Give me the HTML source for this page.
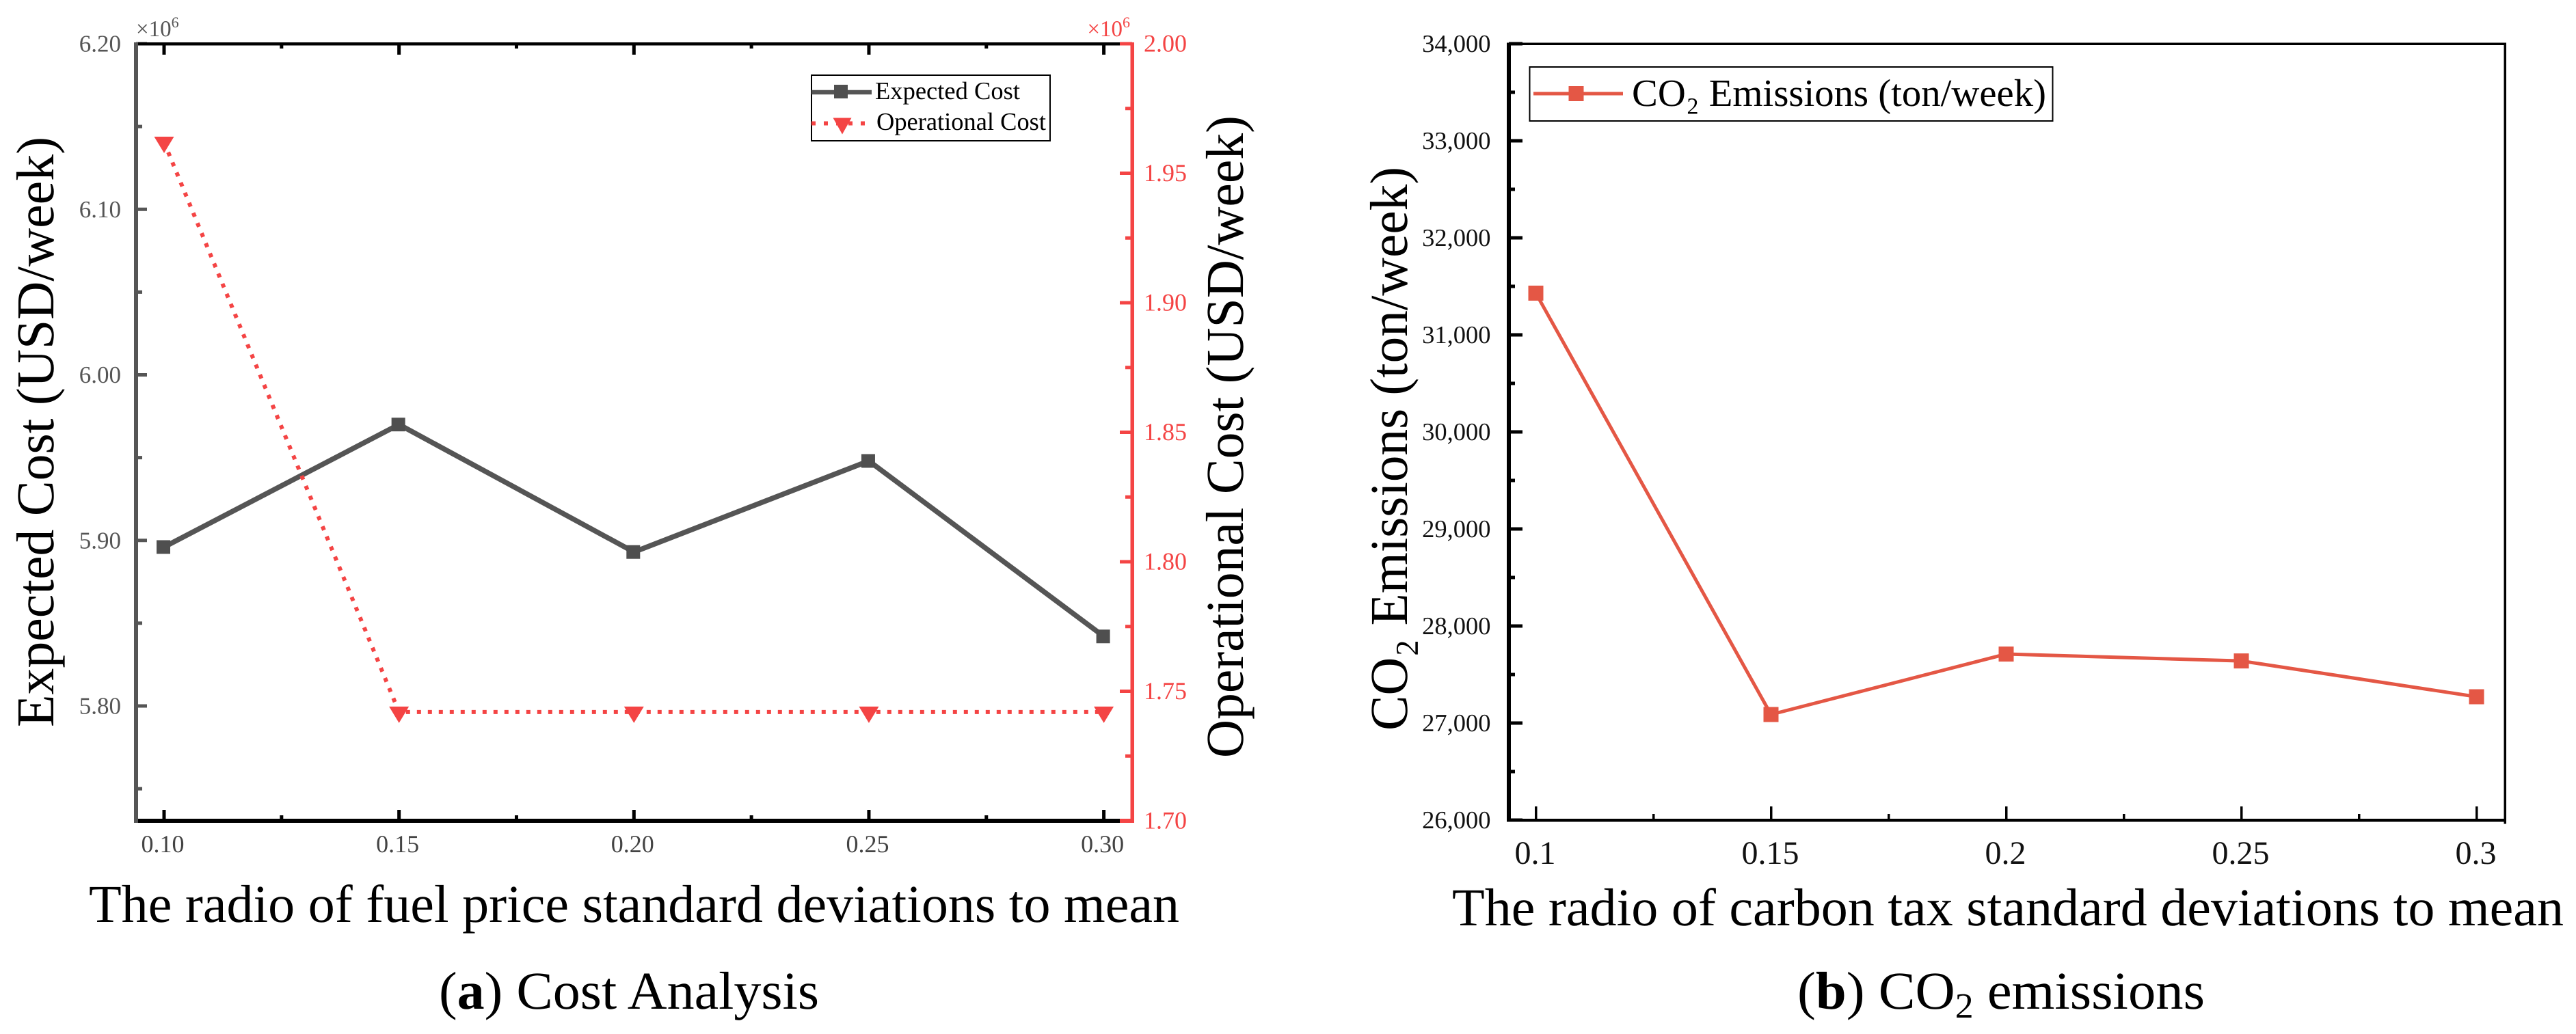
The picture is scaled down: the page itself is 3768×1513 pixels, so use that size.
<!DOCTYPE html>
<html lang="en">
<head>
<meta charset="utf-8">
<title>Cost analysis and CO2 emissions</title>
<style>
  html, body { margin: 0; padding: 0; background: #fff; width: 3768px; height: 1513px; overflow: hidden; }
  svg { display: block; }
  text { font-family: "Liberation Serif", "Noto Serif CJK SC", serif; text-rendering: geometricPrecision; }
</style>
</head>
<body>
<svg xmlns="http://www.w3.org/2000/svg" width="3768" height="1513" viewBox="0 0 3768 1513">
  <rect x="0" y="0" width="3768" height="1513" fill="#ffffff"/>

  <g id="chart-a">
    <g id="a-ticks"></g>
    <rect x="196" y="62" width="1463" height="4.5" fill="#000"/>
    <rect x="196" y="1198" width="1445" height="6" fill="#000"/>
    <rect x="196" y="62" width="6" height="1142" fill="#555555"/>
    <rect x="1638" y="1198" width="21" height="6" fill="#f44444"/>
    <rect x="1653.5" y="62" width="5.5" height="1142" fill="#f44444"/>
    <rect x="1638" y="62" width="21" height="4.5" fill="#f44444"/>
    <g id="a-series"></g>

    <text x="199" y="53" font-size="33" fill="#555555">×10<tspan dy="-13" font-size="22">6</tspan></text>
    <text x="1653" y="53" font-size="33" fill="#f44444" text-anchor="end">×10<tspan dy="-13" font-size="22">6</tspan></text>

    <text transform="translate(78,1064) rotate(-90)" font-size="78" fill="#000" textLength="864" lengthAdjust="spacingAndGlyphs">Expected Cost (USD/week)</text>
    <text transform="translate(1818,1109) rotate(-90)" font-size="78" fill="#000" textLength="940" lengthAdjust="spacingAndGlyphs">Operational Cost (USD/week)</text>
    <text x="130" y="1349" font-size="78" fill="#000" textLength="1595" lengthAdjust="spacingAndGlyphs">The radio of fuel price standard deviations to mean</text>
    <text x="642" y="1476" font-size="78" fill="#000" textLength="556" lengthAdjust="spacingAndGlyphs">(<tspan font-weight="bold">a</tspan>) Cost Analysis</text>

    <g>
      <rect x="1187" y="110" width="349" height="96" fill="#fff" stroke="#000" stroke-width="2"/>
      <line x1="1187" y1="135" x2="1275" y2="135" stroke="#555555" stroke-width="6.5"/>
      <rect x="1220" y="124" width="20" height="20" fill="#4f4f4f"/>
      <text x="1280" y="145" font-size="36.5" fill="#000" textLength="212" lengthAdjust="spacingAndGlyphs">Expected Cost</text>
      <line x1="1187" y1="180.5" x2="1276" y2="180.5" stroke="#f44444" stroke-width="6" stroke-dasharray="6 12"/>
      <polygon points="1218.5,172.5 1245.5,172.5 1232,196.5" fill="#f44444"/>
      <text x="1282" y="190" font-size="36.5" fill="#000" textLength="248" lengthAdjust="spacingAndGlyphs">Operational Cost</text>
    </g>
  </g>

  <g id="chart-b">
    <g id="b-ticks"></g>
    <rect x="2204" y="62.5" width="1462" height="3.5" fill="#000"/>
    <rect x="2204" y="1198" width="1462" height="4.5" fill="#000"/>
    <rect x="2204" y="62.5" width="6" height="1140" fill="#000"/>
    <rect x="3662.5" y="62.5" width="3.5" height="1143" fill="#000"/>
    <g id="b-series"></g>

    <text transform="translate(2058,1069) rotate(-90)" font-size="78" fill="#000" textLength="825" lengthAdjust="spacingAndGlyphs">CO₂ Emissions (ton/week)</text>
    <text x="2124" y="1354" font-size="78" fill="#000" textLength="1626" lengthAdjust="spacingAndGlyphs">The radio of carbon tax standard deviations to mean</text>
    <text x="2629" y="1476" font-size="78" fill="#000" textLength="596" lengthAdjust="spacingAndGlyphs">(<tspan font-weight="bold">b</tspan>) CO<tspan dy="13" font-size="52">2</tspan><tspan dy="-13"> emissions</tspan></text>

    <g>
      <rect x="2237.5" y="98" width="765" height="79" fill="#fff" stroke="#000" stroke-width="2"/>
      <line x1="2243" y1="137" x2="2374" y2="137" stroke="#e45745" stroke-width="5"/>
      <rect x="2294.5" y="126" width="22" height="22" fill="#e45745"/>
      <text x="2387" y="155" font-size="56.5" fill="#000" textLength="606" lengthAdjust="spacingAndGlyphs">CO₂ Emissions (ton/week)</text>
    </g>
  </g>
</svg>

<script>
// ---- Chart (a) data ----
const ratiosA = [0.10, 0.15, 0.20, 0.25, 0.30];
const expectedCost = [5.896, 5.970, 5.893, 5.948, 5.842];
const operationalCost = [1.962, 1.742, 1.742, 1.742, 1.742];
const xLabelsA = ['0.10', '0.15', '0.20', '0.25', '0.30'];
const xMinorA = [0.125, 0.175, 0.225, 0.275];
const leftTicks = [6.20, 6.10, 6.00, 5.90, 5.80];
const leftLabels = ['6.20', '6.10', '6.00', '5.90', '5.80'];
const leftMinor = [6.15, 6.05, 5.95, 5.85, 5.75];
const rightTicks = [2.00, 1.95, 1.90, 1.85, 1.80, 1.75, 1.70];
const rightLabels = ['2.00', '1.95', '1.90', '1.85', '1.80', '1.75', '1.70'];
const rightMinor = [1.975, 1.925, 1.875, 1.825, 1.775, 1.725];

// ---- Chart (b) data ----
const ratiosB = [0.10, 0.15, 0.20, 0.25, 0.30];
const co2Emissions = [31430, 27088, 27711, 27640, 27271];
const xLabelsB = ['0.1', '0.15', '0.2', '0.25', '0.3'];
const xMinorB = [0.125, 0.175, 0.225, 0.275];
const co2Ticks = [34000, 33000, 32000, 31000, 30000, 29000, 28000, 27000, 26000];
const co2Labels = ['34,000', '33,000', '32,000', '31,000', '30,000', '29,000', '28,000', '27,000', '26,000'];
const co2Minor = [33500, 32500, 31500, 30500, 29500, 28500, 27500, 26500];

// ---- Axis functions ----
function xA(v) { return 240 + (v - 0.1) * 6873; }
function yLeft(v) { return 64 + (6.2 - v) * 2422.5; }
function yRight(v) { return 64 + (2 - v) * 3790; }
function xB(v) { return 2246.5 + (v - 0.1) * 6880; }
function yCo2(v) { return 1200 - (v - 26000) * 0.142; }

const NS = 'http://www.w3.org/2000/svg';
function mk(tag, attrs, parent) {
  const node = document.createElementNS(NS, tag);
  for (const k in attrs) node.setAttribute(k, attrs[k]);
  parent.appendChild(node);
  return node;
}
const aTicks = document.getElementById('a-ticks');
const aSeries = document.getElementById('a-series');
const bTicks = document.getElementById('b-ticks');
const bSeries = document.getElementById('b-series');
let el;

// ---- Chart (a) ticks ----
ratiosA.forEach(function (v, i) {
  const x = xA(v);
  el = mk('rect', { x: x - 2.5, y: 64, width: 5, height: 16, fill: '#000' }, aTicks);
  
  
  el = mk('rect', { x: x - 2.5, y: 1185, width: 5, height: 15, fill: '#000' }, aTicks);
  
  
  el = mk('text', { x: x - 2, y: 1247, 'font-size': 36, fill: '#444444', 'text-anchor': 'middle' }, aTicks);
  el.textContent = xLabelsA[i];
  
  
});
xMinorA.forEach(function (v) {
  const x = xA(v);
  el = mk('rect', { x: x - 2.5, y: 64, width: 5, height: 7, fill: '#000' }, aTicks);
  
  
  el = mk('rect', { x: x - 2.5, y: 1193, width: 5, height: 7, fill: '#000' }, aTicks);
  
  
});
leftTicks.forEach(function (v, i) {
  const y = yLeft(v);
  el = mk('rect', { x: 199, y: y - 2.5, width: 16, height: 5, fill: '#555555' }, aTicks);
  
  
  el = mk('text', { x: 177, y: y + 11.5, 'font-size': 35, fill: '#555555', 'text-anchor': 'end' }, aTicks);
  el.textContent = leftLabels[i];
  
  
});
leftMinor.forEach(function (v) {
  el = mk('rect', { x: 199, y: yLeft(v) - 2.5, width: 9, height: 5, fill: '#555555' }, aTicks);
  
  
});
rightTicks.forEach(function (v, i) {
  const y = yRight(v);
  el = mk('rect', { x: 1638, y: y - 2.5, width: 18, height: 5, fill: '#f44444' }, aTicks);
  
  
  el = mk('text', { x: 1673, y: y + 11.5, 'font-size': 36, fill: '#f44444' }, aTicks);
  el.textContent = rightLabels[i];
  
  
});
rightMinor.forEach(function (v) {
  el = mk('rect', { x: 1646, y: yRight(v) - 2.5, width: 10, height: 5, fill: '#f44444' }, aTicks);
  
  
});

// ---- Chart (a) series ----
el = mk('polyline', {
  points: ratiosA.map(function (v, i) { return xA(v) + ',' + yLeft(expectedCost[i]); }).join(' '),
  fill: 'none', stroke: '#555555', 'stroke-width': 7.5, 'stroke-linejoin': 'miter'
}, aSeries);


ratiosA.forEach(function (v, i) {
  el = mk('rect', { x: xA(v) - 11, y: yLeft(expectedCost[i]) - 10, width: 20, height: 20, fill: '#4f4f4f' }, aSeries);
  
  
});
el = mk('polyline', {
  points: ratiosA.map(function (v, i) { return xA(v) + ',' + yRight(operationalCost[i]); }).join(' '),
  fill: 'none', stroke: '#f44444', 'stroke-width': 6, 'stroke-dasharray': '6 10'
}, aSeries);


ratiosA.forEach(function (v, i) {
  const x = xA(v);
  const y = yRight(operationalCost[i]);
  el = mk('polygon', {
    points: (x - 14.5) + ',' + (y - 8) + ' ' + (x + 14.5) + ',' + (y - 8) + ' ' + x + ',' + (y + 16),
    fill: '#f44444'
  }, aSeries);
  
  
});

// ---- Chart (b) ticks ----
ratiosB.forEach(function (v, i) {
  const x = xB(v);
  el = mk('rect', { x: x - 1.5, y: 1180, width: 3.5, height: 20, fill: '#000' }, bTicks);
  
  
  el = mk('text', { x: x - 1, y: 1264, 'font-size': 48, fill: '#111111', 'text-anchor': 'middle' }, bTicks);
  el.textContent = xLabelsB[i];
  
  
});
xMinorB.forEach(function (v) {
  el = mk('rect', { x: xB(v) - 1.5, y: 1191, width: 3.5, height: 9, fill: '#000' }, bTicks);
  
  
});
co2Ticks.forEach(function (v, i) {
  const y = yCo2(v);
  el = mk('rect', { x: 2207, y: y - 2.5, width: 20, height: 5, fill: '#000' }, bTicks);
  
  
  el = mk('text', { x: 2180.5, y: y + 12, 'font-size': 36.5, fill: '#111111', 'text-anchor': 'end' }, bTicks);
  el.textContent = co2Labels[i];
  
  
});
co2Minor.forEach(function (v) {
  el = mk('rect', { x: 2207, y: yCo2(v) - 2.5, width: 9, height: 5, fill: '#000' }, bTicks);
  
  
});

// ---- Chart (b) series ----
el = mk('polyline', {
  points: ratiosB.map(function (v, i) { return xB(v) + ',' + yCo2(co2Emissions[i]); }).join(' '),
  fill: 'none', stroke: '#e45745', 'stroke-width': 5
}, bSeries);


ratiosB.forEach(function (v, i) {
  el = mk('rect', { x: xB(v) - 11, y: yCo2(co2Emissions[i]) - 11, width: 22, height: 22, fill: '#e45745' }, bSeries);
  
  
});
</script>
</body>
</html>
